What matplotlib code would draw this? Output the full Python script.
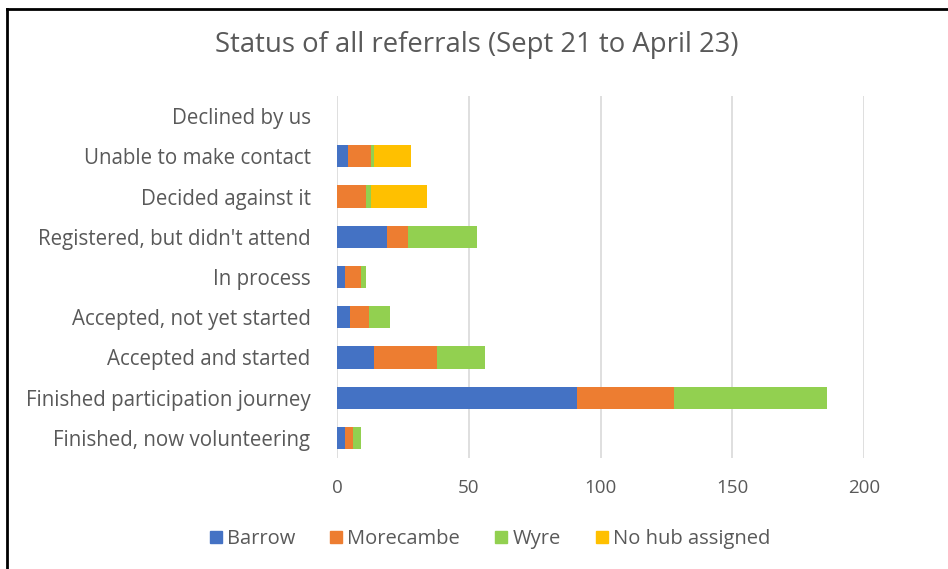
import matplotlib.pyplot as plt
import numpy as np
from matplotlib.lines import Line2D

categories = ["Declined by us", "Unable to make contact", "Decided against it",
              "Registered, but didn't attend", "In process", "Accepted, not yet started",
              "Accepted and started", "Finished participation journey",
              "Finished, now volunteering"]
barrow = [0, 4, 0, 19, 3, 5, 14, 91, 3]
morecambe = [0, 9, 11, 8, 6, 7, 24, 37, 3]
wyre = [0, 1, 2, 26, 2, 8, 18, 58, 3]
no_hub = [0, 14, 21, 0, 0, 0, 0, 0, 0]
series_names = ["Barrow", "Morecambe", "Wyre", "No hub assigned"]
colors = ["#4472C4", "#ED7D31", "#92D050", "#FFC000"]

plt.rcParams['font.family'] = ['Open Sans', 'DejaVu Sans']
text_col = "#595959"

fig = plt.figure(figsize=(9.48, 5.69), dpi=100)
ax = fig.add_axes([337 / 948, (569 - 458) / 569, (864 - 337) / 948, 362 / 569])

y = np.arange(len(categories))
left = np.zeros(len(categories))
for vals, name, col in zip([barrow, morecambe, wyre, no_hub], series_names, colors):
    ax.barh(y, vals, left=left, height=0.55, color=col, label=name, zorder=3)
    left += np.array(vals)

ax.set_xlim(0, 200)
ax.set_ylim(len(categories) - 0.5, -0.5)
ax.set_xticks([0, 50, 100, 150, 200])
ax.set_yticks(y)
ax.set_yticklabels(categories)
ax.tick_params(axis='both', length=0, colors=text_col)
ax.tick_params(axis='x', pad=15, labelsize=13.5)
ax.tick_params(axis='y', pad=19, labelsize=14.8)
ax.grid(axis='x', color="#D9D9D9", linewidth=1.2, zorder=0)
for s in ax.spines.values():
    s.set_visible(False)

fig.text(477 / 948, 1 - 45 / 569, "Status of all referrals (Sept 21 to April 23)",
         ha='center', va='center', fontsize=19.8, color=text_col)

handles = [Line2D([0], [0], marker='s', linestyle='', markersize=9,
                  markerfacecolor=c, markeredgecolor=c) for c in colors]
fig.legend(handles, series_names, loc='center', bbox_to_anchor=(490 / 948, 1 - 539 / 569),
           ncol=4, frameon=False, fontsize=14.5, labelcolor=text_col,
           handletextpad=0.25, columnspacing=1.75, handlelength=0.6)

# screenshot frame on the left and top
fig.add_artist(Line2D([7 / 948, 7 / 948], [0, 1 - 9 / 569], color='black', linewidth=2))
fig.add_artist(Line2D([7 / 948, 1], [1 - 9 / 569, 1 - 9 / 569], color='black', linewidth=2))

fig.savefig("out.png", dpi=100)
